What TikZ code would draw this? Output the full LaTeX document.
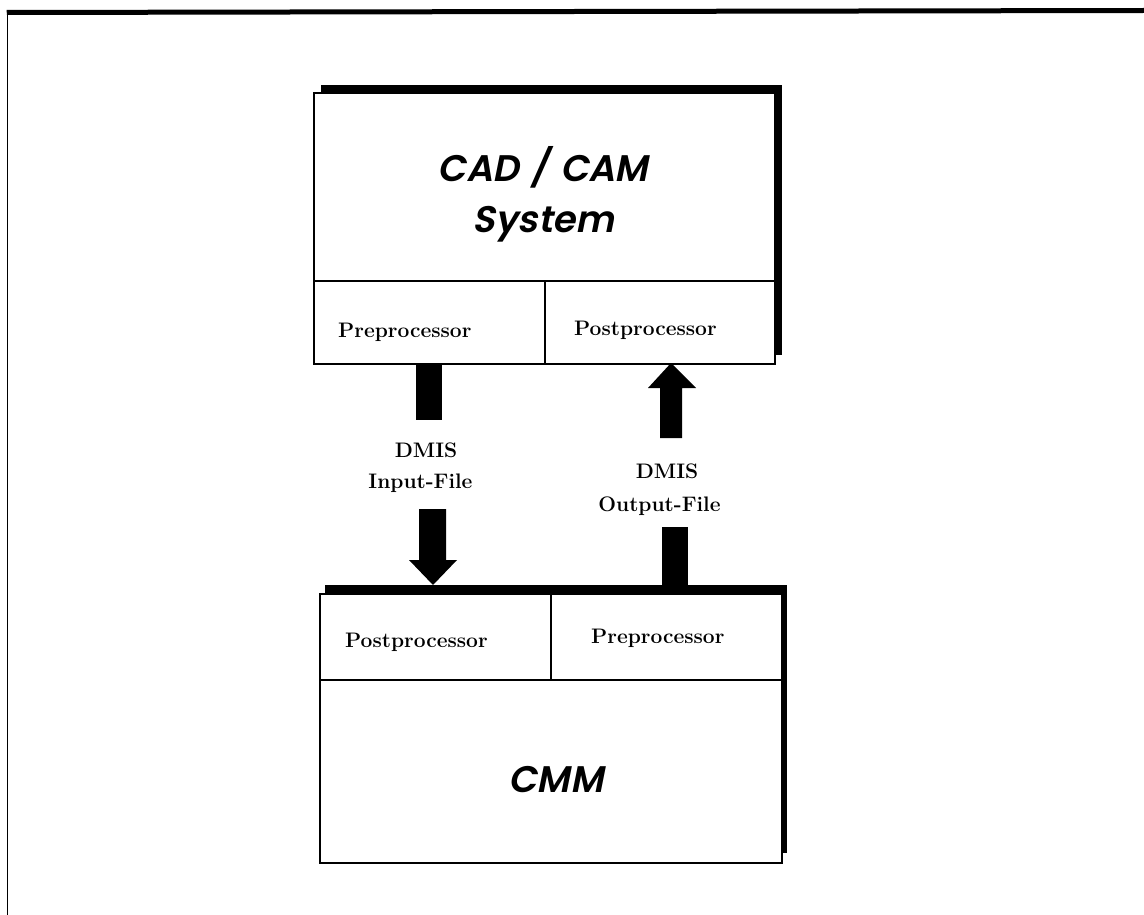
\documentclass[tikz,border=0pt]{standalone}
\usepackage{fontspec}
\newfontfamily\geo[FakeSlant=0.2,WordSpace=1.3]{Poppins SemiBold}
\usetikzlibrary{calc}
\begin{document}
\begin{tikzpicture}[x=1pt,y=-1pt,
  cell/.style={draw, line width=1.6pt, fill=white, inner sep=0pt, anchor=north west},
  serif/.style={font=\fontsize{21}{24}\selectfont\bfseries, inner sep=0pt, anchor=base west},
  big/.style={font=\geo\fontsize{37}{46}\selectfont, inner sep=0pt, anchor=base},
  blk/.style={fill=black}]
\useasboundingbox (0,0) rectangle (1144,915);
\fill[white] (0,0) rectangle (1144,915);
% frame
\draw[line width=1.6pt] (7.5,12) -- (7.5,915);
\draw[line width=5pt] (6.75,12.5) -- (1144,10.5);
% top box
\fill[blk] (321,85) rectangle (782,355);
\node[cell, minimum width=461pt, minimum height=188pt] (cad) at (313,92) {};
\node[cell, minimum width=231pt, minimum height=83pt] (pre1) at (313,280) {};
\node[cell, minimum width=230pt, minimum height=83pt] (post1) at (544,280) {};
\node[big] (t1) at (543,182) {CAD / CAM};
\node[big] (t2) at (543.5,233) {System};
\node[serif] (t3) at (338,337) {Preprocessor};
\node[serif] (t4) at (574,335) {Postprocessor};
% bottom box
\fill[blk] (325,585) rectangle (787,853);
\node[cell, minimum width=231pt, minimum height=86pt] (post2) at (319,593) {};
\node[cell, minimum width=231pt, minimum height=86pt] (pre2) at (550,593) {};
\node[cell, minimum width=462pt, minimum height=183pt] (cmm) at (319,679) {};
\node[serif] (t5) at (345,647) {Postprocessor};
\node[serif] (t6) at (591,643) {Preprocessor};
\node[big] (t7) at (556,792) {CMM};
% labels
\node[serif, anchor=base] (din1) at (426,457) {DMIS};
\node[serif, anchor=base] (din2) at (420.5,488) {Input-File};
\node[serif, anchor=base] (dout1) at (667,478) {DMIS};
\node[serif, anchor=base] (dout2) at (659.5,511) {Output-File};
% left arrow (down)
\fill[blk] (pre1.south) ++(-13.5,0) rectangle ++(26,55);
\coordinate (tipL) at (433,585);
\fill[blk] (419,509) -- (446,509) -- (446,560) -- (457,560) -- (tipL) -- (409,560) -- (419,560) -- cycle;
% right arrow (up)
\coordinate (tipR) at (671,363);
\fill[blk] (tipR) -- (696,388) -- (682,388) -- (682,438) -- (660,438) -- (660,388) -- (648,388) -- cycle;
\fill[blk] (662,527) rectangle (688,585);
\end{tikzpicture}
\end{document}
